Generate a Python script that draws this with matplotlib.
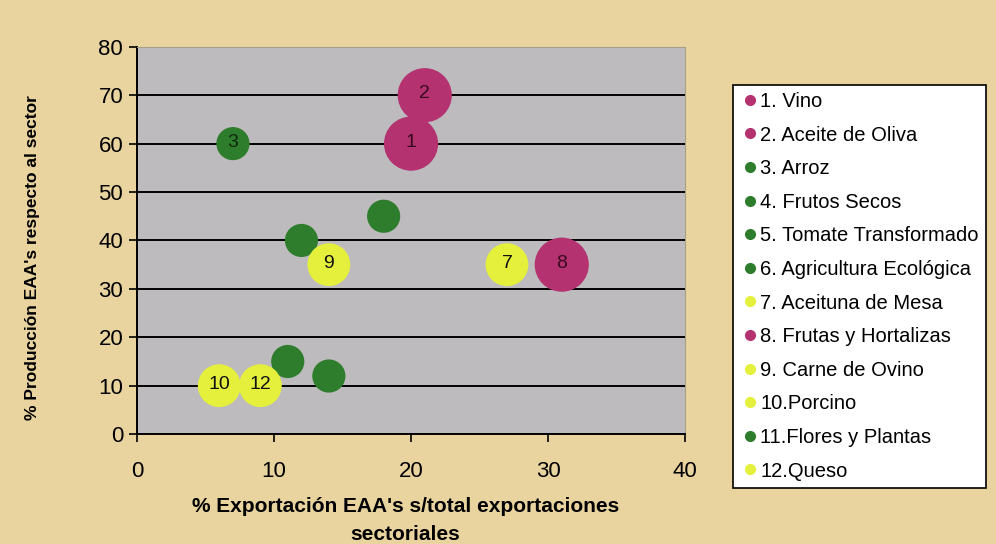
import matplotlib
matplotlib.use("Agg")
import matplotlib.pyplot as plt
from matplotlib.lines import Line2D

plt.rcParams['font.family'] = ['Liberation Sans', 'DejaVu Sans']

# datos
productos = ['1. Vino', '2. Aceite de Oliva', '3. Arroz', '4. Frutos Secos',
             '5. Tomate Transformado', '6. Agricultura Ecológica',
             '7. Aceituna de Mesa', '8. Frutas y Hortalizas', '9. Carne de Ovino',
             '10.Porcino', '11.Flores y Plantas', '12.Queso']
etiquetas = ['1', '2', '3', '', '', '', '7', '8', '9', '10', '', '12']
exportacion = [20, 21, 7, 18, 12, 14, 27, 31, 14, 6, 11, 9]
produccion = [60, 70, 60, 45, 40, 12, 35, 35, 35, 10, 15, 10]
tamano = [8, 8, 3, 3, 3, 3, 5, 8, 5, 5, 3, 5]
grupo = ['m', 'm', 'v', 'v', 'v', 'v', 'a', 'm', 'a', 'a', 'v', 'a']

colores = {'m': '#B3326F', 'v': '#2E7D2C', 'a': '#E4F03C'}
col_texto = {'m': '#3A0A20', 'v': '#0E2A0E', 'a': '#111111'}

fig = plt.figure(figsize=(9.96, 5.44), dpi=100)
fig.patch.set_facecolor('#E9D4A0')
ax = fig.add_axes([0.1376, 0.202, 0.5502, 0.712])
ax.set_facecolor('#BDBBBD')

ax.set_xlim(0, 40)
ax.set_ylim(0, 80)
ax.set_xticks([0, 10, 20, 30, 40])
ax.set_yticks(range(0, 81, 10))
ax.yaxis.grid(True, color='black', linewidth=1.4)
ax.set_axisbelow(True)

for i in range(len(productos)):
    ax.scatter(exportacion[i], produccion[i], s=tamano[i] * 190,
               color=colores[grupo[i]], edgecolors='none', zorder=3)
    if etiquetas[i]:
        ax.text(exportacion[i], produccion[i] + 0.3, etiquetas[i], ha='center', va='center',
                fontsize=14, color=col_texto[grupo[i]], zorder=4)

for s in ['top', 'right']:
    ax.spines[s].set_color('#A89F88')
for s in ['left', 'bottom']:
    ax.spines[s].set_color('black')
    ax.spines[s].set_linewidth(1.4)

ax.tick_params(axis='both', direction='out', length=6, width=1.2, labelsize=16, colors='black')
ax.tick_params(axis='x', pad=13)
ax.tick_params(axis='y', pad=4)

ax.set_xlabel("% Exportación EAA's s/total exportaciones\nsectoriales",
              fontsize=15, fontweight='bold', linespacing=1.6)
ax.xaxis.set_label_coords(0.49, -0.162)
ax.xaxis.label.set_va('top')
ax.set_ylabel("% Producción EAA's respecto al sector", fontsize=12.5, fontweight='bold')
ax.yaxis.set_label_coords(-0.178, 0.455)

handles = [Line2D([0], [0], marker='o', linestyle='none', markersize=8,
                  markerfacecolor=colores[g], markeredgecolor='none') for g in grupo]
leg = fig.legend(handles, productos, loc='upper left', bbox_to_anchor=(0.736, 0.844),
                 fontsize=14.5, frameon=True, fancybox=False, edgecolor='black',
                 framealpha=1, borderpad=0.35, labelspacing=0.725, handletextpad=0.0,
                 handlelength=1.0, borderaxespad=0)
leg.get_frame().set_linewidth(1.2)
leg.get_frame().set_facecolor('white')

fig.savefig('out.png', dpi=100, facecolor=fig.get_facecolor())
